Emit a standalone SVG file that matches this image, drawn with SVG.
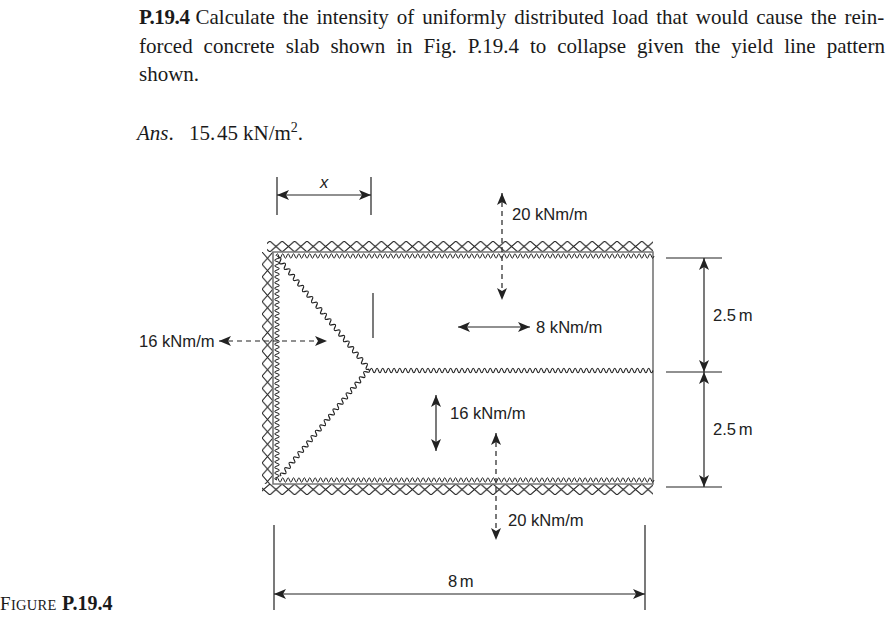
<svg xmlns="http://www.w3.org/2000/svg" width="887" height="626" viewBox="0 0 887 626">
<style>
.t{font-family:"Liberation Serif","Times New Roman",serif;font-size:21px;fill:#1a1a1a}
.l{font-family:"Liberation Sans",Arial,sans-serif;font-size:16.6px;fill:#222}
.ln{stroke:#222;stroke-width:1.2;fill:none}
.d{stroke:#222;stroke-width:1.2;fill:none;stroke-dasharray:5 4}
.w{stroke:#777;stroke-width:1.6;fill:none}
.wv{stroke:#222;stroke-width:1;fill:none}
</style>
<defs>
<marker id="a" viewBox="0 0 12 10" refX="12" refY="5" markerWidth="12" markerHeight="10" markerUnits="userSpaceOnUse" orient="auto-start-reverse"><path d="M0 0L12 5L0 10L3 5Z" fill="#222"/></marker>
<pattern id="xh" width="12.4" height="11" patternUnits="userSpaceOnUse" x="269.8" y="241"><path d="M0 0L12.4 11M12.4 0L0 11" stroke="#222" stroke-width="1.1" fill="none"/></pattern>
<pattern id="xb" width="12.4" height="11" patternUnits="userSpaceOnUse" x="269.8" y="484"><path d="M0 0L12.4 11M12.4 0L0 11" stroke="#222" stroke-width="1.1" fill="none"/></pattern>
<pattern id="xv" width="11" height="12.4" patternUnits="userSpaceOnUse" x="262" y="252"><path d="M0 0L11 12.4M11 0L0 12.4" stroke="#222" stroke-width="1.1" fill="none"/></pattern>
<path id="w54" class="wv" d="M0 0q1.35 -4.4 2.7 0t2.7 0t2.7 0t2.7 0t2.7 0t2.7 0t2.7 0t2.7 0t2.7 0t2.7 0t2.7 0t2.7 0t2.7 0t2.7 0t2.7 0t2.7 0t2.7 0t2.7 0t2.7 0t2.7 0"/>
<g id="w108"><use href="#w54"/><use href="#w54" x="54"/></g>
<g id="w216"><use href="#w108"/><use href="#w108" x="108"/></g>
</defs>
<g id="problem-text">
<text class="t" x="139" y="24" word-spacing="2.75"><tspan font-weight="bold" letter-spacing="-0.4">P.19.4</tspan><tspan dx="-2"> Calculate the intensity of uniformly distributed load that would cause the rein-</tspan></text>
<text class="t" x="139" y="52.5" word-spacing="5.7">forced concrete slab shown in Fig. P.19.4 to collapse given the yield line pattern</text>
<text class="t" x="139" y="81">shown.</text>
<text class="t" x="137" y="139.5"><tspan font-style="italic">Ans</tspan>.</text>
<text class="t" x="189" y="139.5">15.</text>
<text class="t" x="217" y="139.5">45</text>
<text class="t" x="243" y="139.5">kN/m<tspan font-size="14" dy="-8">2</tspan><tspan dy="8">.</tspan></text>
<text class="t" x="0" y="610" style="font-size:14.5px" letter-spacing="0.3"><tspan style="font-size:19px">F</tspan>IGURE <tspan font-weight="bold" style="font-size:20px" letter-spacing="0" x="62">P.19.4</tspan></text>
</g>
<g id="slab">
<rect x="267" y="241" width="386" height="11" fill="url(#xh)"/>
<rect x="262" y="252" width="11" height="232" fill="url(#xv)"/>
<rect x="262" y="484" width="391" height="11" fill="url(#xb)"/>
<path class="w" d="M273 252H653V484H273Z"/>
</g>
<g id="yield-lines">
<g transform="translate(276 256)"><use href="#w216"/><use href="#w108" x="216"/><use href="#w54" x="324"/></g>
<g transform="translate(276 480)"><use href="#w216"/><use href="#w108" x="216"/><use href="#w54" x="324"/></g>
<g transform="translate(370 370.5) scale(1.048 1)"><use href="#w216"/><use href="#w54" x="216"/></g>
<g transform="translate(277 256) rotate(90) scale(1.037 1)"><use href="#w216"/></g>
<g transform="translate(278 258) rotate(50.7) scale(1.33 1)"><use href="#w108"/></g>
<g transform="translate(281 476) rotate(-50.6) scale(1.28 1)"><use href="#w108"/></g>
</g>
<g id="connectors">
<path class="ln" d="M277 177V215M371 177V215"/>
<path class="ln" d="M277 195H371" marker-start="url(#a)" marker-end="url(#a)"/>
<path class="d" d="M502 193V300" marker-start="url(#a)" marker-end="url(#a)"/>
<path class="ln" d="M373 293V338"/>
<path class="ln" d="M458 327H530" marker-start="url(#a)" marker-end="url(#a)"/>
<path class="d" d="M219 341H327" marker-start="url(#a)" marker-end="url(#a)"/>
<path class="ln" d="M436 395V451" marker-start="url(#a)" marker-end="url(#a)"/>
<path class="d" d="M496 433V540" marker-start="url(#a)" marker-end="url(#a)"/>
<path class="ln" d="M666 258H722M666 372H722M666 487H722"/>
<path class="ln" d="M704 258V372" marker-start="url(#a)" marker-end="url(#a)"/>
<path class="ln" d="M704 372V487" marker-start="url(#a)" marker-end="url(#a)"/>
<path class="ln" d="M274 525V610M645 525V610"/>
<path class="ln" d="M274 594H645" marker-start="url(#a)" marker-end="url(#a)"/>
</g>
<g id="labels">
<text class="l" x="320" y="188" font-style="italic">x</text>
<text class="l" x="512" y="220">20 kNm/m</text>
<text class="l" x="536" y="333">8 kNm/m</text>
<text class="l" x="139" y="347">16 kNm/m</text>
<text class="l" x="450" y="419">16 kNm/m</text>
<text class="l" x="508" y="526">20 kNm/m</text>
<text class="l" x="713" y="321" word-spacing="-2">2.5 m</text>
<text class="l" x="713" y="435" word-spacing="-2">2.5 m</text>
<text class="l" x="448" y="587" word-spacing="-2">8 m</text>
</g>
</svg>
